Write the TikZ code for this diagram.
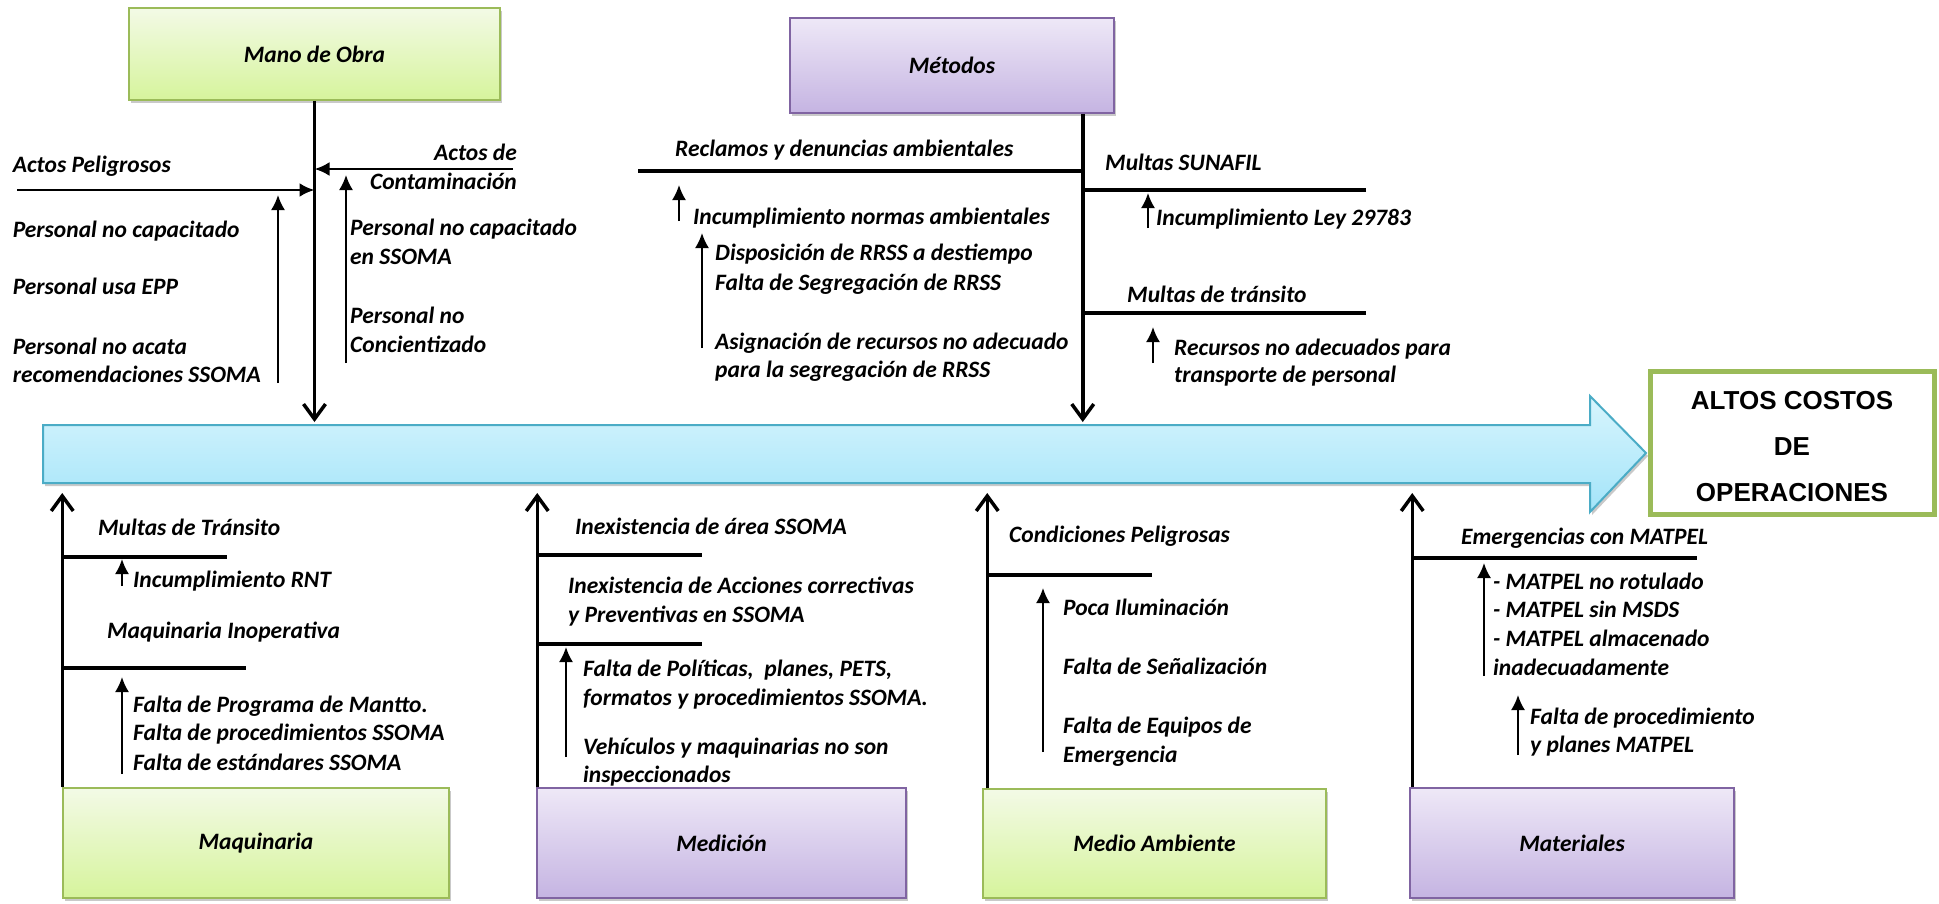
\documentclass[tikz,border=0pt]{standalone}
\usepackage{fontspec}
\setmainfont{Carlito}
\newfontfamily\titlefont{Liberation Sans}
\usetikzlibrary{arrows.meta,shadows,calc}
\definecolor{grnB}{RGB}{155,187,89}
\definecolor{grnT}{RGB}{243,250,230}
\definecolor{grnD}{RGB}{214,244,156}
\definecolor{purB}{RGB}{128,100,162}
\definecolor{purT}{RGB}{238,232,247}
\definecolor{purD}{RGB}{197,180,226}
\definecolor{bluB}{RGB}{75,172,198}
\definecolor{bluT}{RGB}{216,245,253}
\definecolor{bluD}{RGB}{163,228,249}
\newcommand\lblfont{\fontsize{23.5}{29}\selectfont\bfseries\itshape}
\tikzset{
  lbl/.style={font=\lblfont, inner sep=0pt, anchor=base west},
  lblr/.style={lbl, anchor=base east},
  softshadow/.style={drop shadow={shadow xshift=2pt, shadow yshift=-3pt, opacity=0.3, fill=black!70}},
  catbox/.style={rectangle, inner sep=0pt, line width=1.5pt, font=\lblfont, softshadow},
  catgreen/.style={catbox, draw=grnB, top color=grnT, bottom color=grnD},
  catpurple/.style={catbox, draw=purB, top color=purT, bottom color=purD},
  mainline/.style={line width=3.5pt, -{Straight Barb[length=15pt, width=22pt]}},
  branch/.style={line width=4pt},
  midarrow/.style={line width=2.8pt, -{Latex[length=15pt, width=14pt]}},
  smallarrow/.style={line width=2pt, -{Latex[length=15pt, width=14pt]}},
  spine/.style={draw=bluB, line width=2pt, top color=bluT, bottom color=bluD, softshadow},
  goalbox/.style={rectangle, draw=grnB, line width=5pt, fill=white,
    minimum width=284pt, minimum height=143pt, inner sep=0pt},
  goaltext/.style={align=center, inner sep=0pt,
    font=\titlefont\fontsize{26}{46}\selectfont\bfseries},
}
\begin{document}
\begin{tikzpicture}[x=1pt, y=1pt]
\useasboundingbox (0,0) rectangle (1939,-903);

% effect arrow (spine)
\path[spine] (43,-425) -- (1590,-425) -- (1590,-396) -- (1646,-453)
  -- (1590,-512) -- (1590,-483) -- (43,-483) -- cycle;
\coordinate (tipT) at (0,-422);
\coordinate (tipB) at (0,-493);

% effect
\node[goalbox] (goal) at (1792,-442.5) {};
\node[goaltext] (goaltxt) at ($(goal.center)+(0,-4)$) {ALTOS COSTOS\\DE\\OPERACIONES};

% category boxes
\node[catgreen, minimum width=371pt, minimum height=92pt] (mano) at (314.5,-54) {Mano de Obra};
\node[catpurple, minimum width=324pt, minimum height=95pt] (met) at (952,-65.5) {Métodos};
\node[catgreen, minimum width=386pt, minimum height=110pt] (maq) at (256,-843) {Maquinaria};
\node[catpurple, minimum width=369pt, minimum height=110pt] (med) at (721.5,-843) {Medición};
\node[catgreen, minimum width=343pt, minimum height=109pt] (amb) at (1154.5,-843.5) {Medio Ambiente};
\node[catpurple, minimum width=324pt, minimum height=110pt] (mat) at (1572,-843) {Materiales};

% main bones
\draw[mainline] (mano.south) -- (mano.south |- tipT);
\coordinate (metS) at ($(met.south east)+(-32,0)$);
\draw[mainline] (metS) -- (metS |- tipT);
\coordinate (maqN) at (maq.north west);
\coordinate (medN) at ($(med.north west)+(1,0)$);
\coordinate (ambN) at ($(amb.north west)+(5,0)$);
\coordinate (matN) at ($(mat.north west)+(3,0)$);
\draw[mainline] (maqN) -- (maqN |- tipB);
\draw[mainline] (medN) -- (medN |- tipB);
\draw[mainline] (ambN) -- (ambN |- tipB);
\draw[mainline] (matN) -- (matN |- tipB);

% Mano de Obra
\draw[midarrow] (17,-190) coordinate (ap) -- (mano.south |- ap);
\draw[midarrow] (513,-169) coordinate (ac) -- (mano.south |- ac);
\draw[smallarrow] (278,-383) coordinate (mo1s) -- (278,-195) coordinate (mo1e);
\draw[smallarrow] (346,-363) coordinate (mo2s) -- (346,-175) coordinate (mo2e);
\node[lbl] (mo1) at (12.6,-172) {Actos Peligrosos};
\node[lblr] (mo2) at (517,-160) {Actos de};
\node[lblr] (mo3) at (517,-189) {Contaminación};
\node[lbl] (mo4) at (12.6,-237) {Personal no capacitado};
\node[lbl] (mo5) at (12.6,-294) {Personal usa EPP};
\node[lbl] (mo6) at (12.6,-354) {Personal no acata};
\node[lbl] (mo7) at (12.6,-382) {recomendaciones SSOMA};
\node[lbl] (mo8) at (350,-235) {Personal no capacitado};
\node[lbl] (mo9) at (350,-264) {en SSOMA};
\node[lbl] (mo10) at (350,-323) {Personal no};
\node[lbl] (mo11) at (350,-352) {Concientizado};

% Métodos
\draw[branch] (638,-171) coordinate (me1) -- (metS |- me1);
\draw[branch] (1366,-190) coordinate (me2) -- (metS |- me2);
\draw[branch] (1366,-313) coordinate (me3) -- (metS |- me3);
\draw[smallarrow] (679,-221) coordinate (mea1) -- (679,-185) coordinate (meb1);
\draw[smallarrow] (702,-348) coordinate (mea2) -- (702,-233) coordinate (meb2);
\draw[smallarrow] (1148,-228) coordinate (mea3) -- (1148,-193) coordinate (meb3);
\draw[smallarrow] (1153,-363) coordinate (mea4) -- (1153,-327) coordinate (meb4);
\node[lbl] (mt1) at (675,-156) {Reclamos y denuncias ambientales};
\node[lbl] (mt2) at (693,-224) {Incumplimiento normas ambientales};
\node[lbl] (mt3) at (715,-260) {Disposición de RRSS a destiempo};
\node[lbl] (mt4) at (715,-290) {Falta de Segregación de RRSS};
\node[lbl] (mt5) at (715,-349) {Asignación de recursos no adecuado};
\node[lbl] (mt6) at (715,-377) {para la segregación de RRSS};
\node[lbl] (mt7) at (1105,-170) {Multas SUNAFIL};
\node[lbl] (mt8) at (1156,-225) {Incumplimiento Ley 29783};
\node[lbl] (mt9) at (1127,-302) {Multas de tránsito};
\node[lbl] (mt10) at (1174,-355) {Recursos no adecuados para};
\node[lbl] (mt11) at (1174,-382) {transporte de personal};

% Maquinaria
\draw[branch] (maqN |- 0,-557) coordinate (mq1) -- (227,-557);
\draw[branch] (maqN |- 0,-668) coordinate (mq2) -- (246,-668);
\draw[smallarrow] (122,-586) coordinate (mqa1) -- (122,-559) coordinate (mqb1);
\draw[smallarrow] (122,-774) coordinate (mqa2) -- (122,-677) coordinate (mqb2);
\node[lbl] (q1) at (98,-535) {Multas de Tránsito};
\node[lbl] (q2) at (133,-587) {Incumplimiento RNT};
\node[lbl] (q3) at (107,-638) {Maquinaria Inoperativa};
\node[lbl] (q4) at (133,-712) {Falta de Programa de Mantto.};
\node[lbl] (q5) at (133,-740) {Falta de procedimientos SSOMA};
\node[lbl] (q6) at (133,-770) {Falta de estándares SSOMA};

% Medición
\draw[branch] (medN |- 0,-555) coordinate (md1) -- (702,-555);
\draw[branch] (medN |- 0,-644) coordinate (md2) -- (702,-644);
\draw[smallarrow] (566,-757) coordinate (mda1) -- (566,-647) coordinate (mdb1);
\node[lbl] (d1) at (575,-534) {Inexistencia de área SSOMA};
\node[lbl] (d2) at (568,-593) {Inexistencia de Acciones correctivas};
\node[lbl] (d3) at (568,-622) {y Preventivas en SSOMA};
\node[lbl] (d4) at (583,-676) {Falta de Políticas,\ \ planes, PETS,};
\node[lbl] (d5) at (583,-705) {formatos y procedimientos SSOMA.};
\node[lbl] (d6) at (583,-754) {Vehículos y maquinarias no son};
\node[lbl] (d7) at (583,-782) {inspeccionados};

% Medio Ambiente
\draw[branch] (ambN |- 0,-575) coordinate (ab1) -- (1152,-575);
\draw[smallarrow] (1043,-752) coordinate (aba1) -- (1043,-588) coordinate (abb1);
\node[lbl] (a1) at (1009,-542) {Condiciones Peligrosas};
\node[lbl] (a2) at (1063,-615) {Poca Iluminación};
\node[lbl] (a3) at (1063,-674) {Falta de Señalización};
\node[lbl] (a4) at (1063,-733) {Falta de Equipos de};
\node[lbl] (a5) at (1063,-762) {Emergencia};

% Materiales
\draw[branch] (matN |- 0,-558) coordinate (mm1) -- (1697,-558);
\draw[smallarrow] (1484,-676) coordinate (mma1) -- (1484,-563) coordinate (mmb1);
\draw[smallarrow] (1518,-755) coordinate (mma2) -- (1518,-695) coordinate (mmb2);
\node[lbl] (l1) at (1461,-544) {Emergencias con MATPEL};
\node[lbl] (l2) at (1493,-589) {- MATPEL no rotulado};
\node[lbl] (l3) at (1493,-617) {- MATPEL sin MSDS};
\node[lbl] (l4) at (1493,-646) {- MATPEL almacenado};
\node[lbl] (l5) at (1493,-675) {inadecuadamente};
\node[lbl] (l6) at (1530,-724) {Falta de procedimiento};
\node[lbl] (l7) at (1530,-752) {y planes MATPEL};
\end{tikzpicture}
\end{document}
